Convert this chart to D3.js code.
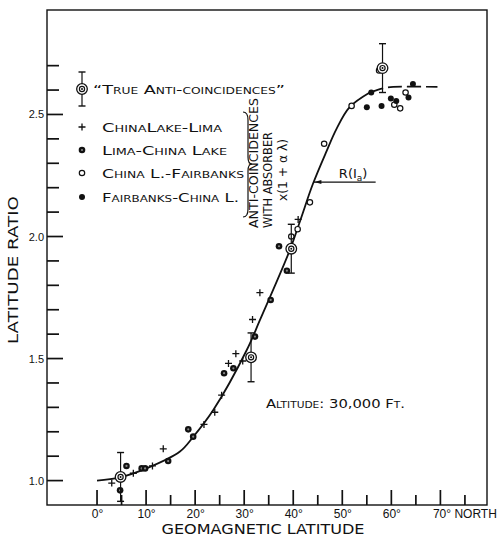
<!DOCTYPE html>
<html><head><meta charset="utf-8">
<script src="https://cdn.jsdelivr.net/npm/d3@7"></script>
<style>
html,body{margin:0;padding:0;background:#fff;}
svg{display:block;}
text{font-family:"DejaVu Sans",sans-serif;fill:#111;}
</style>
</head><body>
<svg id="c" width="497" height="537"></svg>
<script>
// ---------- data ----------
// [geomagnetic latitude (deg), latitude ratio]
const chinaLakeLima = [[3.0,0.99],[7.4,1.03],[11.3,1.06],[13.5,1.13],[21.8,1.23],[24.0,1.28],[25.4,1.35],[26.8,1.48],[28.3,1.52],[29.7,1.49],[31.7,1.66],[33.2,1.77],[41.0,2.07]];
const limaChinaLake = [[4.7,0.96],[6.0,1.06],[9.1,1.05],[9.8,1.05],[14.5,1.08],[18.6,1.21],[19.6,1.18],[25.9,1.44],[27.8,1.46],[32.2,1.59],[35.4,1.74],[37.1,1.96],[38.7,1.86]];
const chinaLFairbanks = [[39.6,2.00],[40.9,2.03],[43.4,2.14],[46.3,2.38],[51.9,2.535],[57.5,2.68],[60.6,2.54],[61.8,2.525],[62.9,2.59]];
const fairbanksChinaL = [[55.0,2.53],[55.9,2.59],[58.0,2.535],[59.9,2.565],[61.0,2.555],[63.5,2.57],[64.4,2.625]];
const trueAnti = [[4.8,1.015],[31.4,1.505],[39.6,1.95],[58.2,2.69]];
const trueAntiErr = [0.1,0.1,0.1,0.1];
const curveSolid = [[0,1.0],[4.6,1.013],[10.1,1.05],[16.9,1.119],[19.6,1.179],[23.7,1.289],[30.5,1.534],[33.2,1.657],[39.3,1.944],[41.5,2.07],[44.0,2.215],[46.8,2.35],[48.8,2.44],[51.5,2.53],[55.6,2.59]];
const curveDashed = [[55.6,2.59],[58.3,2.607],[60.4,2.613],[69.4,2.613]];
const xMajorTicks = [0,10,20,30,40,50,60,70];
const xMinorTicks = [5,15,25,35,45,55,65,75];
const xTickLabels = ["0°","10°","20°","30°","40°","50°","60°","70° NORTH"];
const yMajorTicks = [1.0,1.5,2.0,2.5];
const yMinorTicks = [1.1,1.2,1.3,1.4,1.6,1.7,1.8,1.9,2.1,2.2,2.3,2.4,2.6,2.7];
const yTickLabels = ["1.0","1.5","2.0","2.5"];
const legendLabels = ["ChinaLake-Lima","Lima-China Lake","China L.-Fairbanks","Fairbanks-China L."];

// ---------- drawing ----------
const svg = d3.select("#c");
const ink = "#111";
const x = d3.scaleLinear().domain([-10.2, 79.5]).range([47, 487]);
const y = d3.scaleLinear().domain([0.9, 2.928]).range([505, 10]);
const X0 = x(-10.2), X1 = x(79.5), Y0 = y(0.9), Y1 = y(2.928);

// frame
svg.append("rect").attr("x", X0).attr("y", Y1).attr("width", X1-X0).attr("height", Y0-Y1)
  .attr("fill","none").attr("stroke",ink).attr("stroke-width",1.4);

function styleAxis(g){
  g.select(".domain").remove();
  g.selectAll(".tick line").remove();
  g.selectAll("text").attr("fill",ink).style("font-family","'Liberation Sans',sans-serif").style("font-size","11px");
}
const gy = svg.append("g").attr("transform",`translate(${X0},0)`);
gy.call(d3.axisLeft(y).tickValues(yMajorTicks).tickSize(0).tickPadding(3).tickFormat((d,i)=>yTickLabels[i])).call(styleAxis);
const gx = svg.append("g").attr("transform",`translate(0,${Y0})`);
gx.call(d3.axisBottom(x).tickValues(xMajorTicks).tickSize(0).tickPadding(4).tickFormat((d,i)=>xTickLabels[i])).call(styleAxis);
gx.selectAll(".tick text").style("font-size","12px");
gx.selectAll(".tick").filter(d=>d===70).select("text").attr("text-anchor","start").attr("x",-8);

svg.append("text").attr("x",263).attr("y",534).attr("text-anchor","middle")
  .attr("textLength",203).attr("lengthAdjust","spacingAndGlyphs")
  .style("font-size","14px").text("GEOMAGNETIC LATITUDE");
svg.append("text").attr("transform","translate(18,270) rotate(-90)").attr("text-anchor","middle")
  .attr("textLength",148).attr("lengthAdjust","spacingAndGlyphs")
  .style("font-size","14px").text("LATITUDE RATIO");

const lineGen = d3.line().x(d=>x(d[0])).y(d=>y(d[1])).curve(d3.curveCatmullRom.alpha(0.5));
svg.append("path").datum(curveSolid).attr("d",lineGen).attr("fill","none").attr("stroke",ink).attr("stroke-width",1.8);
svg.append("path").datum(curveDashed).attr("d",lineGen).attr("fill","none").attr("stroke",ink).attr("stroke-width",1.6).attr("stroke-dasharray","14,5");

function cross(g, px, py){
  g.append("path").attr("d",`M${px-3.5},${py}H${px+3.5}M${px},${py-3.5}V${py+3.5}`).attr("stroke",ink).attr("stroke-width",1.3);
}
function limaDot(g, px, py){
  g.append("circle").attr("cx",px).attr("cy",py).attr("r",3.3).attr("fill",ink);
  g.append("circle").attr("cx",px).attr("cy",py).attr("r",1.1).attr("fill","#888");
}
function openDot(g, px, py){
  g.append("circle").attr("cx",px).attr("cy",py).attr("r",2.7).attr("fill","#fff").attr("stroke",ink).attr("stroke-width",1.2);
}
function fillDot(g, px, py){
  g.append("circle").attr("cx",px).attr("cy",py).attr("r",3).attr("fill",ink);
}
function target(g, px, py, top, bot){
  g.append("line").attr("x1",px).attr("x2",px).attr("y1",top).attr("y2",bot).attr("stroke",ink).attr("stroke-width",1.2);
  g.append("line").attr("x1",px-3.5).attr("x2",px+3.5).attr("y1",top).attr("y2",top).attr("stroke",ink).attr("stroke-width",1.4);
  g.append("line").attr("x1",px-3.5).attr("x2",px+3.5).attr("y1",bot).attr("y2",bot).attr("stroke",ink).attr("stroke-width",1.4);
  g.append("circle").attr("cx",px).attr("cy",py).attr("r",5.3).attr("fill","#fff").attr("stroke",ink).attr("stroke-width",1.3);
  g.append("circle").attr("cx",px).attr("cy",py).attr("r",2.6).attr("fill","#fff").attr("stroke",ink).attr("stroke-width",1.2);
  g.append("circle").attr("cx",px).attr("cy",py).attr("r",1).attr("fill",ink);
}
const pts = svg.append("g");
chinaLakeLima.forEach(d=>cross(pts, x(d[0]), y(d[1])));
limaChinaLake.forEach(d=>limaDot(pts, x(d[0]), y(d[1])));
chinaLFairbanks.forEach(d=>openDot(pts, x(d[0]), y(d[1])));
fairbanksChinaL.forEach(d=>fillDot(pts, x(d[0]), y(d[1])));
trueAnti.forEach((d,i)=>target(pts, x(d[0]), y(d[1]), y(d[1]+trueAntiErr[i]), y(d[1]-trueAntiErr[i])));

const lg = svg.append("g");
target(lg, 82, 89, 72, 106);
lg.append("text").attr("x",93).attr("y",89).attr("dy","0.36em").attr("textLength",192).attr("lengthAdjust","spacingAndGlyphs")
  .style("font-size","13px").style("font-variant","small-caps").text("\u201CTrue Anti-coincidences\u201D");
const rowsY = [127,150,173,197];
const rowLen = [120,125,142,137];
const markerFns = [cross, limaDot, openDot, fillDot];
legendLabels.forEach((t,i)=>{
  markerFns[i](lg, 82, rowsY[i]);
  lg.append("text").attr("x",102).attr("y",rowsY[i]).attr("dy","0.36em").attr("textLength",rowLen[i]).attr("lengthAdjust","spacingAndGlyphs")
    .style("font-size","12.5px").style("font-variant","small-caps").text(t);
});
lg.append("path").attr("d","M243,112 Q248,112 248,120 L248,157 Q248,164 252,164 Q248,164 248,171 L248,209 Q248,217 243,217")
  .attr("fill","none").attr("stroke",ink).attr("stroke-width",1.2);
lg.append("text").attr("transform","translate(258,228) rotate(-90)").attr("textLength",130).attr("lengthAdjust","spacingAndGlyphs")
  .style("font-size","11.5px").text("ANTI-COINCIDENCES");
lg.append("text").attr("transform","translate(272,228) rotate(-90)").attr("textLength",96).attr("lengthAdjust","spacingAndGlyphs")
  .style("font-size","11.5px").text("WITH ABSORBER");
lg.append("text").attr("transform","translate(287,201) rotate(-90)").attr("textLength",62).attr("lengthAdjust","spacingAndGlyphs")
  .style("font-size","11.5px").text("x(1 + \u03B1 \u03BB)");

const ann = svg.append("g");
const ax0 = x(44.1), ay = y(2.223), ax1 = x(56.8);
ann.append("line").attr("x1",ax0).attr("x2",ax1).attr("y1",ay).attr("y2",ay).attr("stroke",ink).attr("stroke-width",1.1);
ann.append("path").attr("d",`M${ax0+1},${ay} L${ax0+8},${ay-2} L${ax0+8},${ay+2} Z`).attr("fill",ink);
const rt = ann.append("text").attr("x",x(49.3)).attr("y",y(2.24)).style("font-size","13px");
rt.append("tspan").text("R(I");
rt.append("tspan").attr("dy",3).style("font-size","9px").text("a");
rt.append("tspan").attr("dy",-3).text(")");
ann.append("text").attr("x",266).attr("y",408).attr("textLength",139).attr("lengthAdjust","spacingAndGlyphs")
  .style("font-size","12.5px").style("font-variant","small-caps").text("Altitude: 30,000 Ft.");

// inward tick marks
const tk = svg.append("g").attr("class","ticks");
const tickDefs = [
  {vals: yMajorTicks, len: 16, axis: "y"},
  {vals: yMinorTicks, len: 12, axis: "y"},
  {vals: xMajorTicks, len: 15, axis: "x"},
  {vals: xMinorTicks, len: 10, axis: "x"}
];
tickDefs.forEach((t,k)=>{
  tk.selectAll("line.t"+k).data(t.vals).join("line").attr("class","t"+k)
    .attr("x1", d=> t.axis==="y" ? X0 : x(d))
    .attr("x2", d=> t.axis==="y" ? X0 + t.len : x(d))
    .attr("y1", d=> t.axis==="y" ? y(d) : Y0)
    .attr("y2", d=> t.axis==="y" ? y(d) : Y0 - t.len)
    .attr("stroke", "#111").attr("stroke-width", 1.7);
});
</script>
</body></html>
